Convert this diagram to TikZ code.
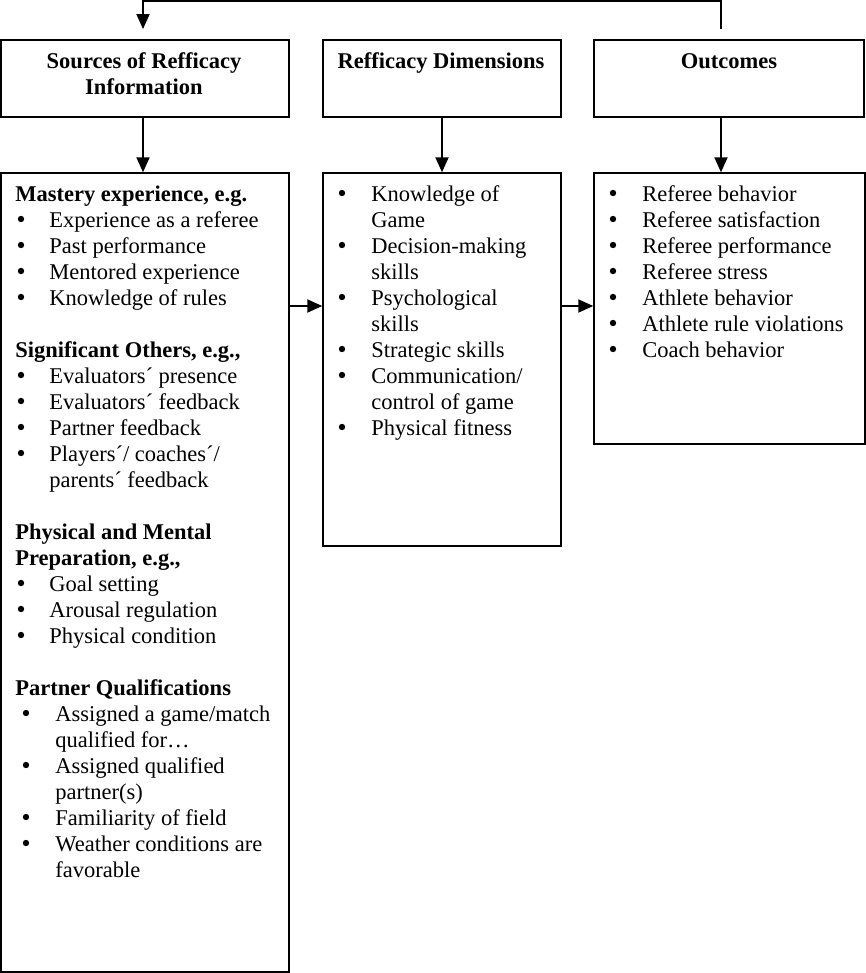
\documentclass[tikz,border=0pt]{standalone}
\usepackage{fontspec}
\setmainfont{Liberation Serif}
\usetikzlibrary{arrows.meta,fit}
\newcommand\bl[5]{%
  \node[bul] (#1-b) at (#2,{193+26*#4}) {};
  \node[txt] (#1) at (#3,{201+26*#4}) {#5};}
\newcommand\cl[4]{%
  \node[txt] (#1) at (#2,{201+26*#3}) {#4};}
\begin{document}
\begin{tikzpicture}[x=0.5333pt,y=-0.5333pt,
  box/.style={draw,line width=0.8pt,inner sep=0pt},
  arr/.style={line width=0.8pt,-{Triangle[length=8pt,width=7pt]}},
  txt/.style={anchor=base west,inner sep=0pt,font=\fontsize{12}{13.87}\selectfont},
  bul/.style={circle,fill,inner sep=0pt,minimum size=3.4pt},
  hd/.style={anchor=base,inner sep=0pt,font=\fontsize{12}{13.87}\selectfont\bfseries},
  bh/.style={txt,font=\fontsize{12}{13.87}\selectfont\bfseries}]
\useasboundingbox (0,0) rectangle (866,973);
% header boxes
\node[box,fit={(1,40) (289,117)}] (h1) {};
\node[box,fit={(323,40) (561,117)}] (h2) {};
\node[box,fit={(594,40) (864,117)}] (h3) {};
% content boxes
\node[box,fit={(1,173) (289,972)}] (c1) {};
\node[box,fit={(323,173) (561,546)}] (c2) {};
\node[box,fit={(594,173) (865,444)}] (c3) {};
% header texts
\node[hd] (h1a) at (144,68) {Sources of Refficacy};
\node[hd] (h1b) at (144,94) {Information};
\node[hd] (h2a) at (441,68) {Refficacy Dimensions};
\node[hd] (h3a) at (729,68) {Outcomes};
% connectors
\coordinate (tl) at (143,1);
\coordinate (tr) at (721,1);
\coordinate (tlb) at (143,29);
\coordinate (trb) at (721,29);
\coordinate (mid) at (0,306);
\draw[arr] (trb) -- (tr) -- (tl) -- (tlb);
\draw[arr] (h1.south -| tl) -- (c1.north -| tl);
\draw[arr] (h2.south) -- (c2.north);
\draw[arr] (h3.south -| tr) -- (c3.north -| tr);
\draw[arr] (c1.east |- mid) -- (c2.west |- mid);
\draw[arr] (c2.east |- mid) -- (c3.west |- mid);
% box 1
\node[bh] (m0) at (15,201) {Mastery experience, e.g.};
\bl{m1}{21}{49}{1}{Experience as a referee}
\bl{m2}{21}{49}{2}{Past performance}
\bl{m3}{21}{49}{3}{Mentored experience}
\bl{m4}{21}{49}{4}{Knowledge of rules}
\node[bh] (s0) at (15,{201+26*6}) {Significant Others, e.g.,};
\bl{s1}{21}{49}{7}{Evaluators´ presence}
\bl{s2}{21}{49}{8}{Evaluators´ feedback}
\bl{s3}{21}{49}{9}{Partner feedback}
\bl{s4}{21}{49}{10}{Players´/ coaches´/}
\cl{s4c}{49}{11}{parents´ feedback}
\node[bh] (p0) at (15,{201+26*13}) {Physical and Mental};
\node[bh] (p0c) at (15,{201+26*14}) {Preparation, e.g.,};
\bl{p1}{21}{49}{15}{Goal setting}
\bl{p2}{21}{49}{16}{Arousal regulation}
\bl{p3}{21}{49}{17}{Physical condition}
\node[bh] (q0) at (15,{201+26*19}) {Partner Qualifications};
\bl{q1}{26}{55}{20}{Assigned a game/match}
\cl{q1c}{55}{21}{qualified for…}
\bl{q2}{26}{55}{22}{Assigned qualified}
\cl{q2c}{55}{23}{partner(s)}
\bl{q3}{26}{55}{24}{Familiarity of field}
\bl{q4}{26}{55}{25}{Weather conditions are}
\cl{q4c}{55}{26}{favorable}
% box 2
\bl{d1}{342}{371}{0}{Knowledge of}
\cl{d1c}{371}{1}{Game}
\bl{d2}{342}{371}{2}{Decision-making}
\cl{d2c}{371}{3}{skills}
\bl{d3}{342}{371}{4}{Psychological}
\cl{d3c}{371}{5}{skills}
\bl{d4}{342}{371}{6}{Strategic skills}
\bl{d5}{342}{371}{7}{Communication/}
\cl{d5c}{371}{8}{control of game}
\bl{d6}{342}{371}{9}{Physical fitness}
% box 3
\bl{o1}{613}{642}{0}{Referee behavior}
\bl{o2}{613}{642}{1}{Referee satisfaction}
\bl{o3}{613}{642}{2}{Referee performance}
\bl{o4}{613}{642}{3}{Referee stress}
\bl{o5}{613}{642}{4}{Athlete behavior}
\bl{o6}{613}{642}{5}{Athlete rule violations}
\bl{o7}{613}{642}{6}{Coach behavior}
\end{tikzpicture}
\end{document}
